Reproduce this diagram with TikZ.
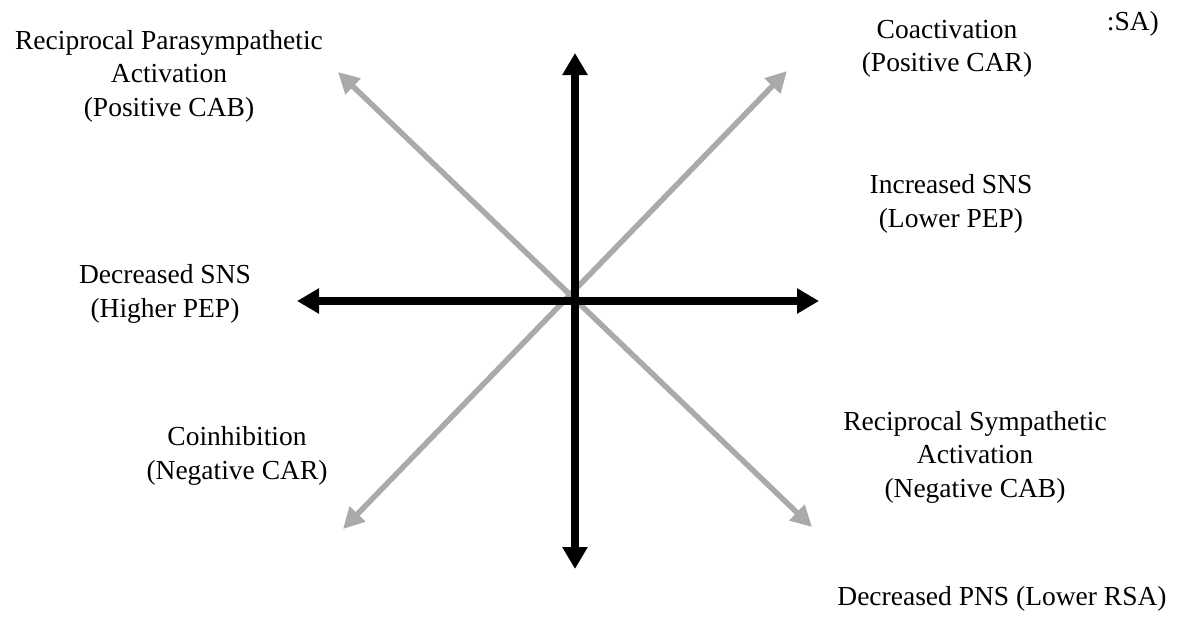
\documentclass[tikz,border=0pt]{standalone}
\usepackage{fontspec}
\setmainfont{Liberation Serif}
\usetikzlibrary{arrows.meta}
\definecolor{axisgray}{RGB}{170,170,170}
\tikzset{
  lbl/.style={inner sep=0pt, align=center, font=\fontsize{27.5}{33.5}\selectfont},
  blackaxis/.style={line width=8pt, black, {Triangle[length=22pt,width=24pt]}-{Triangle[length=22pt,width=24pt]}},
  grayaxis/.style={line width=5.5pt, axisgray, {Triangle[length=21pt,width=21pt]}-{Triangle[length=21pt,width=21pt]}}
}
\begin{document}
\begin{tikzpicture}[x=1pt,y=-1pt]
\useasboundingbox (0,0) rectangle (1178,616);
% tip coordinates
\coordinate (top) at (575,53);
\coordinate (bottom) at (575,569);
\coordinate (left) at (297,301);
\coordinate (right) at (819,301);
\coordinate (tl) at (338,72);
\coordinate (br) at (812,527);
\coordinate (tr) at (787,71);
\coordinate (bl) at (343,529);
% gray diagonals
\draw[grayaxis] (tl) -- (br);
\draw[grayaxis] (bl) -- (tr);
% black axes
\draw[blackaxis] (left) -- (right);
\draw[blackaxis] (bottom) -- (top);
% labels
\node[lbl] (rpa) at (169,76) {Reciprocal Parasympathetic\\Activation\\(Positive CAB)};
\node[lbl] (coact) at (947,49) {Coactivation\\(Positive CAR)};
\node[lbl] (isns) at (951,204) {Increased SNS\\(Lower PEP)};
\node[lbl] (dsns) at (165,294) {Decreased SNS\\(Higher PEP)};
\node[lbl] (coinh) at (237,456) {Coinhibition\\(Negative CAR)};
\node[lbl] (rsa) at (975,457) {Reciprocal Sympathetic\\Activation\\(Negative CAB)};
\node[lbl, anchor=base] (dpns) at (1002,605) {Decreased PNS (Lower RSA)};
\node[lbl, anchor=base east] (ipns) at (1159,30) {:SA)};
\end{tikzpicture}
\end{document}
